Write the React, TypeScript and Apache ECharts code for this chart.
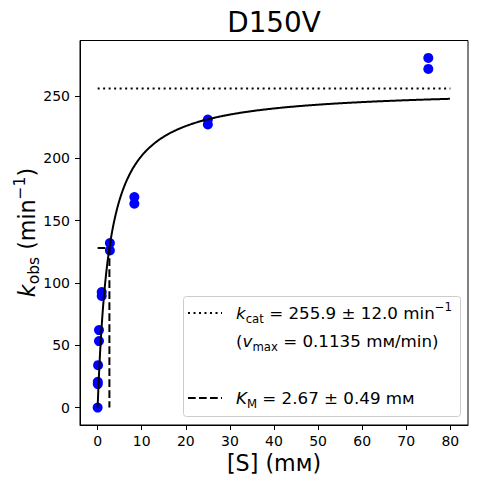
import React, { useEffect, useRef } from "react";
import * as echarts from "echarts";

// Observed data (substrate concentration in mM, observed rate in min^-1)
const substrateMM = [0, 0.034, 0.034, 0.103, 0.309, 0.309, 0.926, 0.926, 2.78, 2.78, 8.33, 8.33, 25, 25, 75, 75];
const kobsValues = [0, 18.8, 20.7, 34, 53.3, 62.1, 89.5, 92.7, 126, 132, 163.5, 168.8, 227, 231, 271.6, 280.4];

// Fit parameters (from the legend)
const kcat = 255.9;
const kcatErr = 12.0;
const vmax = 0.1135;
const KM = 2.67;
const KMErr = 0.49;
const fitXMax = 80;

// Tick labels
const xTicks = [0, 10, 20, 30, 40, 50, 60, 70, 80];
const yTicks = [0, 50, 100, 150, 200, 250];
const xRange = [-4, 84];
const yRange = [-14, 294.4];

const FONT = "DejaVu Sans";

export default function App() {
  const ref = useRef<HTMLDivElement>(null);

  useEffect(() => {
    if (!ref.current) return;
    const chart = echarts.init(ref.current, null, { renderer: "svg" });

    const points = substrateMM.map((s, i) => [s, kobsValues[i]]);
    const fitCurve: number[][] = [];
    for (let i = 0; i <= fitXMax * 10; i++) {
      const s = i / 10;
      fitCurve.push([s, (kcat * s) / (KM + s)]);
    }
    const kmLine = [
      [0, kcat / 2],
      [KM, kcat / 2],
      [KM, 0],
    ];

    const legFs = 16.7;
    const subFs = 11.7;
    const legRich = {
      n: { fontSize: legFs, fontFamily: FONT, color: "#000", lineHeight: 24, verticalAlign: "middle" },
      i: { fontSize: legFs, fontFamily: FONT, fontStyle: "italic", color: "#000", lineHeight: 24, verticalAlign: "middle" },
      sub: { fontSize: subFs, fontFamily: FONT, color: "#000", lineHeight: 12, verticalAlign: "bottom" },
      sup: { fontSize: subFs, fontFamily: FONT, color: "#000", lineHeight: 12, verticalAlign: "top" },
    };
    const axFs = 22.2;
    const axSub = 15.5;
    const axRich = {
      n: { fontSize: axFs, fontFamily: FONT, color: "#000", lineHeight: 30, verticalAlign: "middle" },
      i: { fontSize: axFs, fontFamily: FONT, fontStyle: "italic", color: "#000", lineHeight: 30, verticalAlign: "middle" },
      sub: { fontSize: axSub, fontFamily: FONT, color: "#000", lineHeight: 16, verticalAlign: "bottom" },
      sup: { fontSize: axSub, fontFamily: FONT, color: "#000", lineHeight: 16, verticalAlign: "top" },
    };

    const legX = 183.5, legY = 296.5, legW = 277, legH = 120;
    const handleX1 = 188, handleX2 = 222;
    const textX = 236;
    const row1 = 312.5, row2 = 340.5, row4 = 397.5;

    chart.setOption({
      animation: false,
      grid: {
        left: 80,
        right: 9,
        top: 40.5,
        bottom: 59,
        show: true,
        borderColor: "#000",
        borderWidth: 1,
        backgroundColor: "transparent",
      },
      xAxis: {
        type: "value",
        min: xRange[0],
        max: xRange[1],
        splitLine: { show: false },
        axisLine: { show: true, onZero: false, lineStyle: { color: "#000", width: 1 } },
        axisTick: { show: true, inside: false, length: 5, customValues: xTicks, lineStyle: { color: "#000", width: 1 } },
        axisLabel: { customValues: xTicks, color: "#000", fontSize: 14, fontFamily: FONT, margin: 9 },
      },
      yAxis: {
        type: "value",
        min: yRange[0],
        max: yRange[1],
        splitLine: { show: false },
        axisLine: { show: true, onZero: false, lineStyle: { color: "#000", width: 1 } },
        axisTick: { show: true, inside: false, length: 5, customValues: yTicks, lineStyle: { color: "#000", width: 1 } },
        axisLabel: { customValues: yTicks, color: "#000", fontSize: 14, fontFamily: FONT, margin: 10 },
      },
      series: [
        {
          type: "scatter",
          data: points,
          symbol: "circle",
          symbolSize: 10,
          itemStyle: { color: "#0000ff", opacity: 1 },
          z: 2,
        },
        {
          type: "line",
          data: fitCurve,
          showSymbol: false,
          lineStyle: { color: "#000", width: 2 },
          z: 3,
        },
        {
          type: "line",
          data: [[0, kcat], [fitXMax, kcat]],
          showSymbol: false,
          lineStyle: { color: "#000", width: 2, type: [2, 3.5] },
          z: 3,
        },
        {
          type: "line",
          data: kmLine,
          showSymbol: false,
          lineStyle: { color: "#000", width: 2, type: [7.7, 3.3] },
          z: 3,
        },
      ],
      graphic: [
        {
          type: "text",
          x: 274,
          y: 22,
          style: { text: "D150V", fontSize: 27.8, fontFamily: FONT, fill: "#000", align: "center", verticalAlign: "middle" },
        },
        {
          type: "text",
          x: 274,
          y: 463,
          style: { text: "[S] (mм)", fontSize: axFs, fontFamily: FONT, fill: "#000", align: "center", verticalAlign: "middle" },
        },
        {
          type: "text",
          x: 27,
          y: 232.5,
          rotation: Math.PI / 2,
          style: {
            text: "{i|k}{sub|obs}{n| (min}{sup|−1}{n|)}",
            rich: axRich,
            align: "center",
            verticalAlign: "middle",
          },
        },
        {
          type: "rect",
          shape: { x: legX, y: legY, width: legW, height: legH, r: 3 },
          style: { fill: "rgba(255,255,255,0.8)", stroke: "#cccccc", lineWidth: 1 },
          z: 10,
        },
        {
          type: "line",
          shape: { x1: handleX1, y1: 313, x2: handleX2, y2: 313 },
          style: { stroke: "#000", lineWidth: 2, lineDash: [2, 3.5] },
          z: 11,
        },
        {
          type: "line",
          shape: { x1: handleX1, y1: 398, x2: handleX2, y2: 398 },
          style: { stroke: "#000", lineWidth: 2, lineDash: [7.7, 3.3] },
          z: 11,
        },
        {
          type: "text",
          x: textX,
          y: row1,
          z: 11,
          style: {
            text: `{i|k}{sub|cat}{n| = ${kcat.toFixed(1)} ± ${kcatErr.toFixed(1)} min}{sup|−1}`,
            rich: legRich,
            align: "left",
            verticalAlign: "middle",
          },
        },
        {
          type: "text",
          x: textX,
          y: row2,
          z: 11,
          style: {
            text: `{n|(}{i|v}{sub|max}{n| = ${vmax.toFixed(4)} mм/min)}`,
            rich: legRich,
            align: "left",
            verticalAlign: "middle",
          },
        },
        {
          type: "text",
          x: textX,
          y: row4,
          z: 11,
          style: {
            text: `{i|K}{sub|M}{n| = ${KM.toFixed(2)} ± ${KMErr.toFixed(2)} mм}`,
            rich: legRich,
            align: "left",
            verticalAlign: "middle",
          },
        },
      ],
    });

    return () => {
      chart.dispose();
    };
  }, []);

  return (
    <div
      ref={ref}
      style={{ position: "fixed", left: 0, top: 0, width: 477, height: 484, background: "#fff" }}
    />
  );
}
